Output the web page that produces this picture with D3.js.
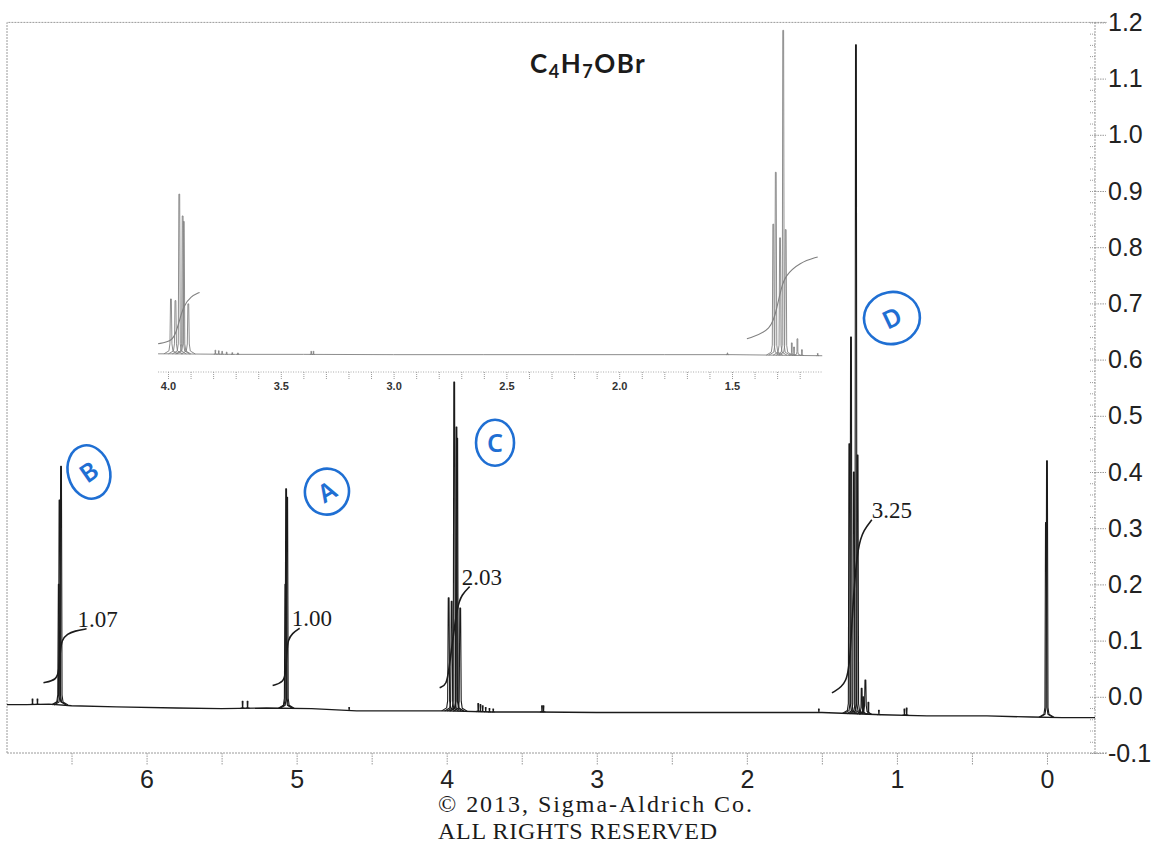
<!DOCTYPE html>
<html>
<head>
<meta charset="utf-8">
<script src="https://cdn.jsdelivr.net/npm/d3@7"></script>
<style>
  body { margin: 0; background: #fff; }
  svg { display: block; }
</style>
</head>
<body>
<svg id="chart" width="1155" height="844"></svg>
<script>
/***** Data *****/
// baseline drift of the main trace (ppm, intensity)
var baselinePpm = [6.93, 6.8, 6.65, 6.5, 6.2, 5.8, 5.5, 5.2, 4.9, 4.6, 4.3, 4.0, 3.7, 3.4, 3.0, 2.6, 2.2, 1.8, 1.5, 1.1, 0.8, 0.4, 0.1, -0.1, -0.32];
var baselineVal = [-0.014, -0.014, -0.013, -0.016, -0.018, -0.020, -0.021, -0.020, -0.021, -0.025, -0.025, -0.025, -0.027, -0.027, -0.028, -0.028, -0.028, -0.028, -0.028, -0.032, -0.034, -0.034, -0.036, -0.037, -0.037];

// individual resonance lines (ppm, top intensity)
var peakPpm = [6.76, 6.727, 6.585, 6.58, 6.57,
               5.36, 5.327, 5.075, 5.07, 5.063,
               4.65,
               3.987, 3.967, 3.95, 3.935, 3.93, 3.91,
               3.79, 3.775, 3.76, 3.74, 3.715, 3.69, 3.365, 3.355,
               1.52, 1.317, 1.306, 1.287, 1.273, 1.262,
               1.235, 1.225, 1.21, 1.19, 1.12, 0.95, 0.935,
               0.007, 0.0];
var peakTop = [-0.004, -0.004, 0.20, 0.35, 0.41,
               -0.008, -0.008, 0.20, 0.37, 0.355,
               -0.019,
               0.176, 0.17, 0.56, 0.48, 0.46, 0.158,
               -0.012, -0.014, -0.016, -0.019, -0.021, -0.022, -0.016, -0.016,
               -0.022, 0.45, 0.64, 0.40, 1.16, 0.43,
               0.015, 0.0, 0.03, -0.01, -0.024, -0.022, -0.02,
               0.31, 0.42];

// integral curves of the main trace (ppm, intensity)
var integralB = [[6.687, 0.025], [6.60, 0.030], [6.585, 0.045], [6.575, 0.08], [6.567, 0.101], [6.527, 0.112], [6.48, 0.117], [6.40, 0.121]];
var integralA = [[5.16, 0.020], [5.085, 0.026], [5.072, 0.045], [5.065, 0.08], [5.058, 0.101], [5.03, 0.113], [4.98, 0.122]];
var integralC = [[4.047, 0.016], [4.0, 0.021], [3.985, 0.05], [3.955, 0.11], [3.93, 0.16], [3.90, 0.182], [3.847, 0.196]];
var integralD = [[1.433, 0.007], [1.327, 0.023], [1.31, 0.08], [1.29, 0.18], [1.26, 0.27], [1.22, 0.297], [1.167, 0.315]];
var integralLabels = ["1.07", "1.00", "2.03", "3.25"];

// integral curves of the expanded inset
var insetIntegralC = [[4.044, 0.012], [3.985, 0.020], [3.965, 0.05], [3.945, 0.11], [3.93, 0.15], [3.90, 0.185], [3.86, 0.20]];
var insetIntegralD = [[1.434, 0.03], [1.323, 0.06], [1.30, 0.15], [1.28, 0.22], [1.265, 0.26], [1.20, 0.31], [1.12, 0.33]];
var insetPpmRange = [4.044, 1.10];

// tick labels
var xTickValues = [6.5, 6, 5.5, 5, 4.5, 4, 3.5, 3, 2.5, 2, 1.5, 1, 0.5, 0];
var yTickValues = [-0.1, 0.0, 0.1, 0.2, 0.3, 0.4, 0.5, 0.6, 0.7, 0.8, 0.9, 1.0, 1.1, 1.2];
var insetTickValues = [4.0, 3.9, 3.8, 3.7, 3.6, 3.5, 3.4, 3.3, 3.2, 3.1, 3.0, 2.9, 2.8, 2.7, 2.6, 2.5, 2.4, 2.3, 2.2, 2.1, 2.0, 1.9, 1.8, 1.7, 1.6, 1.5, 1.4, 1.3, 1.2];

// hand-written assignment letters (ppm, intensity of circle centre)
var annotLetters = ["B", "A", "C", "D"];
var annotPpm = [6.384, 4.798, 3.678, 1.033];
var annotVal = [0.40, 0.365, 0.452, 0.674];

(function (d3) {

    var svg = d3.select("#chart");

    /***** Scales *****/
    var x = d3.scaleLinear().domain([6.93, -0.32]).range([7, 1095]);
    var y = d3.scaleLinear().domain([-0.1, 1.2]).range([753, 22.4]);
    var base = d3.scaleLinear().domain(baselinePpm).range(baselineVal);

    var xi = d3.scaleLinear().domain([4.0, 1.5]).range([168, 732]);
    var yi = d3.scaleLinear().domain([0, 1]).range([347, 74]);

    var grey = "#9a9a9a";

    /***** Frame *****/
    var frame = svg.append("g")
        .attr("fill", "none")
        .attr("stroke", grey)
        .attr("stroke-width", 1)
        .attr("stroke-dasharray", "2,1");
    frame.append("path")
        .attr("d", d3.line()([[x(6.93), y(-0.1)], [x(6.93), y(1.2)], [x(-0.32) + 12, y(1.2)]]));
    frame.append("path")
        .attr("d", d3.line()([[x(6.93), y(-0.1)], [x(-0.32) + 12, y(-0.1)]]));
    frame.append("path")
        .attr("d", d3.line()([[x(-0.32), y(-0.1)], [x(-0.32), y(1.2)]]));

    /***** Axes *****/
    var xAxis = d3.axisBottom(x)
        .tickValues(xTickValues)
        .tickSize(12)
        .tickPadding(5)
        .tickFormat(function (d) { return d % 1 === 0 ? String(d) : ""; });
    var gx = svg.append("g")
        .attr("transform", "translate(0," + y(-0.1) + ")")
        .call(xAxis);
    gx.select(".domain").remove();
    gx.selectAll(".tick line").attr("stroke", grey).attr("stroke-dasharray", "1.5,1");
    gx.selectAll(".tick text")
        .attr("font-family", "Liberation Sans, Arial, sans-serif")
        .attr("font-size", 25)
        .attr("fill", "#222");

    var yMinor = d3.range(0, 66).map(function (i) { return -0.1 + i * 0.02; });
    var gyMinor = svg.append("g")
        .attr("transform", "translate(" + x(-0.32) + ",0)")
        .call(d3.axisLeft(y).tickValues(yMinor).tickSize(6).tickFormat(""));
    gyMinor.select(".domain").remove();
    gyMinor.selectAll(".tick line").attr("stroke", grey).attr("stroke-dasharray", "1,1");

    var yAxis = d3.axisRight(y)
        .tickValues(yTickValues)
        .tickSize(11)
        .tickPadding(2)
        .tickFormat(function (d) { return d.toFixed(1); });
    var gy = svg.append("g")
        .attr("transform", "translate(" + x(-0.32) + ",0)")
        .call(yAxis);
    gy.select(".domain").remove();
    gy.selectAll(".tick line").attr("stroke", grey).attr("stroke-dasharray", "1.5,1");
    gy.selectAll(".tick text")
        .attr("font-family", "Liberation Sans, Arial, sans-serif")
        .attr("font-size", 25)
        .attr("fill", "#222");

    /***** Peak shape helper *****/
    function spike(px, yb, yt) {
        var h = Math.max(0, yb - yt);
        var f = Math.min(1, h / 40);
        return [[px - 6 * f - 1, yb], [px - 2 * f, yb - 3 * f], [px - 1 * f, yb - 10 * f],
                [px - 0.4, yt], [px + 0.4, yt],
                [px + 1 * f, yb - 10 * f], [px + 2 * f, yb - 3 * f], [px + 6 * f + 1, yb]];
    }
    var line = d3.line();

    /***** Inset (expanded 4.0 - 1.2 ppm) *****/
    var inset = svg.append("g")
        .attr("fill", "none")
        .attr("stroke", "#808080")
        .attr("stroke-width", 0.9);

    var insetBase = baselinePpm.filter(function (p) { return p < insetPpmRange[0] && p > insetPpmRange[1]; });
    insetBase = [insetPpmRange[0]].concat(insetBase, [insetPpmRange[1]]);
    inset.append("path")
        .attr("d", line(insetBase.map(function (p) { return [xi(p), yi(base(p))]; })));

    peakPpm.forEach(function (p, i) {
        if (p > insetPpmRange[0] || p < insetPpmRange[1]) return;
        inset.append("path")
            .attr("d", line(spike(xi(p), yi(base(p)), yi(peakTop[i]))));
    });

    var integralLineInset = d3.line()
        .x(function (d) { return xi(d[0]); })
        .y(function (d) { return yi(d[1]); })
        .curve(d3.curveBasis);
    [insetIntegralC, insetIntegralD].forEach(function (pts) {
        inset.append("path").attr("d", integralLineInset(pts)).attr("stroke-width", 1.1);
    });

    var xiAxis = d3.axisBottom(xi)
        .tickValues(insetTickValues)
        .tickSize(7)
        .tickPadding(3)
        .tickFormat(function (d) { return Math.round(d * 10) % 5 === 0 ? d.toFixed(1) : ""; });
    var gxi = svg.append("g")
        .attr("transform", "translate(0,372)")
        .call(xiAxis);
    gxi.select(".domain").remove();
    gxi.selectAll(".tick line").attr("stroke", "#999").attr("stroke-dasharray", "1,1");
    gxi.selectAll(".tick text")
        .attr("font-family", "Liberation Sans, Arial, sans-serif")
        .attr("font-size", 11)
        .attr("font-weight", "bold")
        .attr("fill", "#333");
    svg.append("path")
        .attr("d", line([[xi(insetPpmRange[0]), 372], [xi(insetPpmRange[1]), 372]]))
        .attr("stroke", "#aaa")
        .attr("stroke-dasharray", "1,1.5");

    /***** Main trace *****/
    var trace = svg.append("g")
        .attr("fill", "none")
        .attr("stroke", "#1b1b1b")
        .attr("stroke-width", 1.1)
        .attr("stroke-linejoin", "round");

    trace.append("path")
        .attr("stroke-width", 1.4)
        .attr("d", line(baselinePpm.map(function (p, i) { return [x(p), y(baselineVal[i])]; })));

    peakPpm.forEach(function (p, i) {
        trace.append("path")
            .attr("d", line(spike(x(p), y(base(p)), y(peakTop[i]))));
    });

    /***** Integrals *****/
    var integralLine = d3.line()
        .x(function (d) { return x(d[0]); })
        .y(function (d) { return y(d[1]); })
        .curve(d3.curveBasis);
    var integrals = [integralB, integralA, integralC, integralD];
    var labelShift = [-9, -8, -8, 0];
    integrals.forEach(function (pts, i) {
        trace.append("path")
            .attr("d", integralLine(pts))
            .attr("stroke-width", 1.6);
        var end = pts[pts.length - 1];
        svg.append("text")
            .attr("x", x(end[0]) + labelShift[i])
            .attr("y", y(end[1]) - 2)
            .attr("font-family", "Liberation Serif, Times New Roman, serif")
            .attr("font-size", 23)
            .attr("fill", "#1b1b1b")
            .text(integralLabels[i]);
    });

    /***** Title *****/
    var title = svg.append("text")
        .attr("x", 530)
        .attr("y", 73)
        .attr("font-family", "Lato, Open Sans, sans-serif")
        .attr("font-weight", "bold")
        .attr("font-size", 26)
        .attr("letter-spacing", 1.5)
        .attr("fill", "#1b1b1b");
    title.append("tspan").text("C");
    title.append("tspan").attr("font-size", 18).attr("dy", 5).text("4");
    title.append("tspan").attr("dy", -5).text("H");
    title.append("tspan").attr("font-size", 18).attr("dy", 5).text("7");
    title.append("tspan").attr("dy", -5).text("OBr");

    /***** Copyright *****/
    svg.append("text")
        .attr("x", 438).attr("y", 812)
        .attr("textLength", 314).attr("lengthAdjust", "spacing")
        .attr("font-family", "Liberation Serif, Times New Roman, serif")
        .attr("font-size", 24)
        .attr("fill", "#1b1b1b")
        .text("\u00A9 2013, Sigma-Aldrich Co.");
    svg.append("text")
        .attr("x", 438).attr("y", 839)
        .attr("textLength", 279).attr("lengthAdjust", "spacing")
        .attr("font-family", "Liberation Serif, Times New Roman, serif")
        .attr("font-size", 24)
        .attr("fill", "#1b1b1b")
        .text("ALL RIGHTS RESERVED");

    /***** Hand-written assignments *****/
    var blue = "#1f6fd3";
    var ringR = [[21, 27, -15], [22, 23, 10], [19, 23, 0], [28, 26, -10]];
    var letterTilt = [-35, -30, 0, -25];
    annotLetters.forEach(function (letter, i) {
        var cx = x(annotPpm[i]), cy = y(annotVal[i]);
        var g = svg.append("g").attr("transform", "translate(" + cx + "," + cy + ")");
        g.append("ellipse")
            .attr("rx", ringR[i][0]).attr("ry", ringR[i][1])
            .attr("transform", "rotate(" + ringR[i][2] + ")")
            .attr("fill", "none")
            .attr("stroke", blue)
            .attr("stroke-width", 2.6);
        g.append("text")
            .attr("transform", "rotate(" + letterTilt[i] + ")")
            .attr("text-anchor", "middle")
            .attr("dy", "0.36em")
            .attr("font-family", "Noto Sans, sans-serif")
            .attr("font-size", 25)
            .attr("font-weight", 600)
            .attr("fill", blue)
            .text(letter);
    });

})(d3);
</script>
</body>
</html>
